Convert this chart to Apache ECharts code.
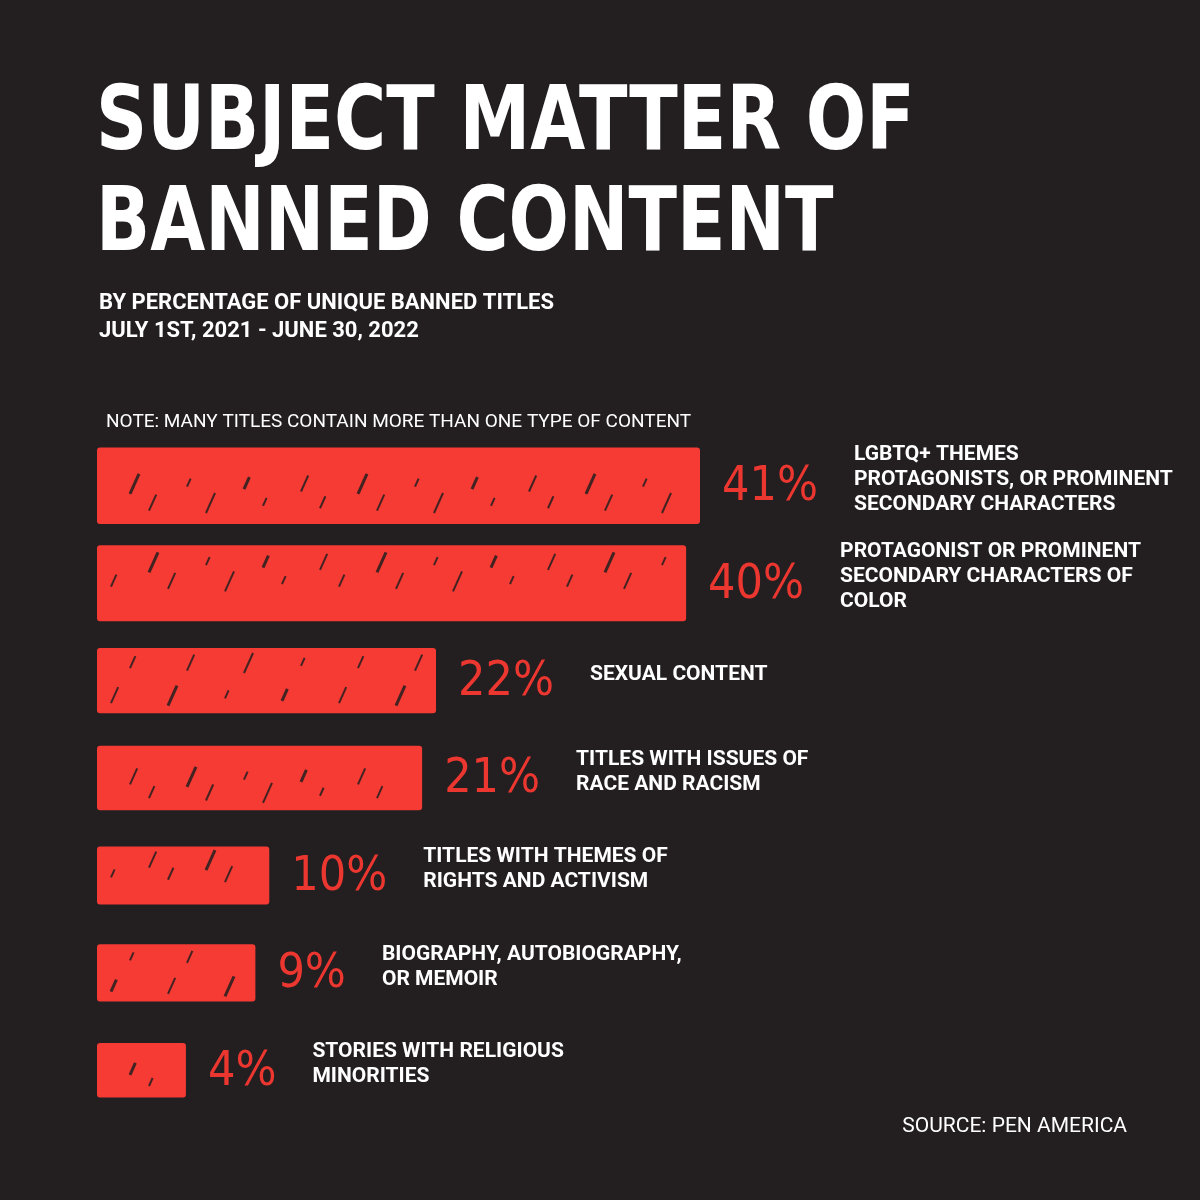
<!DOCTYPE html>
<html>
<head>
<meta charset="utf-8">
<script src="https://cdn.jsdelivr.net/npm/echarts@6/dist/echarts.min.js"></script>
<style>
  html, body { margin: 0; padding: 0; background: #231f20; }
  #main { width: 1200px; height: 1200px; }
</style>
</head>
<body>
<div id="main"></div>
<script>
// subject categories, top to bottom
const categories = [
  'LGBTQ+ THEMES\nPROTAGONISTS, OR PROMINENT\nSECONDARY CHARACTERS',
  'PROTAGONIST OR PROMINENT\nSECONDARY CHARACTERS OF\nCOLOR',
  'SEXUAL CONTENT',
  'TITLES WITH ISSUES OF\nRACE AND RACISM',
  'TITLES WITH THEMES OF\nRIGHTS AND ACTIVISM',
  'BIOGRAPHY, AUTOBIOGRAPHY,\nOR MEMOIR',
  'STORIES WITH RELIGIOUS\nMINORITIES'
];
// share of unique banned titles (%)
const percents = [41, 40, 22, 21, 10, 9, 4];

const RED = '#f53b34';
const BG = '#231f20';
const PCT_FONT = '48px "DejaVu Sans Condensed", "DejaVu Sans", sans-serif';
const CAT_FONT = 'bold 21px Roboto, "Noto Sans", sans-serif';
const AXIS_MIN = -2.4; // hand-drawn bars start a little before zero

// measure text width for placing the category label after the percent
const measureCtx = document.createElement('canvas').getContext('2d');
function textWidth(str, font) {
  measureCtx.font = font;
  return measureCtx.measureText(str).width;
}

const chart = echarts.init(document.getElementById('main'));

function renderBar(params, api) {
  const v = api.value(0);
  const idx = api.value(1);
  const start = api.coord([AXIS_MIN, idx]);
  const end = api.coord([v, idx]);
  const h = 52 + 0.6 * v; // thicker bars for larger shares, like the original
  const x0 = start[0];
  const w = end[0] - start[0];
  const yTop = start[1] - h / 2;

  const children = [{
    type: 'rect',
    shape: { x: x0, y: yTop, width: w, height: h, r: 3 },
    style: { fill: RED }
  }];

  // scratchy dark strokes to mimic the crayon texture
  let k = 0;
  for (let x = x0 + 14; x < x0 + w - 14; x += 19, k++) {
    const s = (k * 7 + idx * 5) % 6;
    if (s === 0 || s === 3) continue;
    const row = (k + idx) % 3;
    const yy = yTop + h * (0.2 + row * 0.25);
    const len = 8 + ((k * 3 + idx) % 4) * 4;
    children.push({
      type: 'line',
      shape: { x1: x, y1: yy + len * 0.6, x2: x + len * 0.45, y2: yy - len * 0.4 },
      style: { stroke: BG, lineWidth: s === 1 ? 3 : 2, opacity: 0.85 }
    });
  }

  const pctText = percents[params.dataIndex] + '%';
  const pctX = end[0] + 22;
  children.push({
    type: 'text',
    x: pctX,
    y: start[1] + 2,
    style: {
      text: pctText,
      font: PCT_FONT,
      fill: '#ec3630',
      align: 'left',
      verticalAlign: 'middle'
    }
  });

  const catX = pctX + textWidth(pctText, PCT_FONT) + 36;
  children.push({
    type: 'text',
    x: catX,
    y: start[1] - 6,
    style: {
      text: categories[params.dataIndex],
      font: CAT_FONT,
      fill: '#ffffff',
      lineHeight: 25,
      align: 'left',
      verticalAlign: 'middle'
    }
  });

  return { type: 'group', children: children };
}

chart.setOption({
  backgroundColor: BG,
  animation: false,
  graphic: [{
    type: 'text',
    x: 96,
    y: 76,
    scaleY: 1.13,
    style: {
      text: 'SUBJECT MATTER OF\nBANNED CONTENT',
      fill: '#ffffff',
      font: 'bold 79px "DejaVu Sans Condensed", "DejaVu Sans", sans-serif',
      lineHeight: 89,
      verticalAlign: 'top'
    }
  }],
  title: [
    {
      text: 'BY PERCENTAGE OF UNIQUE BANNED TITLES\nJULY 1ST, 2021 - JUNE 30, 2022',
      left: 94,
      top: 284,
      textStyle: {
        color: '#ffffff',
        fontFamily: 'Roboto, sans-serif',
        fontWeight: 'bold',
        fontSize: 22,
        lineHeight: 28
      }
    },
    {
      text: 'NOTE: MANY TITLES CONTAIN MORE THAN ONE TYPE OF CONTENT',
      left: 101,
      top: 408,
      textStyle: {
        color: '#ffffff',
        fontFamily: 'Roboto, sans-serif',
        fontWeight: 'normal',
        fontSize: 19
      }
    },
    {
      text: 'SOURCE: PEN AMERICA',
      right: 68,
      top: 1111,
      textStyle: {
        color: '#ffffff',
        fontFamily: 'Roboto, sans-serif',
        fontWeight: 'normal',
        fontSize: 21
      }
    }
  ],
  grid: { left: 97, right: 236, top: 437, bottom: 81 },
  xAxis: {
    type: 'value',
    min: AXIS_MIN,
    max: 60,
    show: false
  },
  yAxis: {
    type: 'category',
    data: categories,
    inverse: true,
    show: false
  },
  series: [{
    type: 'custom',
    renderItem: renderBar,
    encode: { x: 0, y: 1 },
    data: percents.map((p, i) => [p, i])
  }]
});
</script>
</body>
</html>
